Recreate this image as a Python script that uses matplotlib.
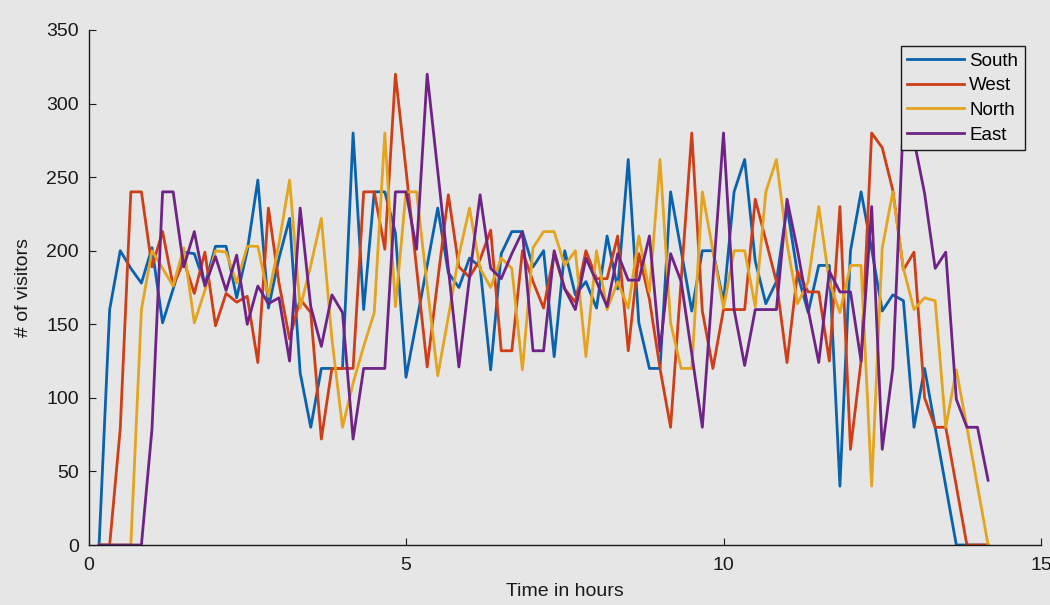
import matplotlib
matplotlib.use("Agg")
import matplotlib.pyplot as plt
import numpy as np

# samples every 10 minutes, first one at 10 min
minutes = np.arange(10, 860, 10)

south = [0, 160, 200, 188, 178, 202, 151, 174, 199, 198,
         177, 203, 203, 168, 200, 248, 161, 195, 222, 117,
         80, 120, 120, 120, 280, 160, 240, 240, 212, 114,
         152, 190, 229, 185, 175, 195, 189, 119, 198, 213,
         213, 189, 200, 128, 200, 170, 179, 161, 210, 174,
         262, 151, 120, 120, 240, 200, 159, 200, 200, 165,
         240, 262, 193, 164, 179, 230, 184, 158, 190, 190,
         40, 200, 240, 201, 159, 170, 166, 80, 120, 80,
         40, 0, 0, 0, 0]

west = [0, 0, 79, 240, 240, 189, 213, 176, 193, 171,
        199, 149, 171, 165, 169, 124, 229, 178, 140, 167,
        158, 72, 120, 120, 120, 240, 240, 201, 320, 255,
        188, 121, 180, 238, 189, 182, 194, 214, 132, 132,
        200, 179, 161, 198, 174, 165, 200, 181, 181, 210,
        132, 198, 167, 120, 80, 180, 280, 159, 120, 160,
        160, 160, 235, 207, 179, 124, 186, 172, 172, 125,
        230, 65, 125, 280, 270, 241, 187, 199, 100, 80,
        80, 40, 0, 0, 0]

north = [0, 0, 0, 0, 160, 200, 188, 176, 202, 151,
         173, 200, 199, 178, 203, 203, 169, 205, 248, 161,
         190, 222, 140, 80, 110, 135, 158, 280, 162, 240,
         240, 176, 115, 155, 197, 229, 188, 175, 195, 188,
         119, 202, 213, 213, 190, 200, 128, 200, 160, 179,
         161, 210, 172, 262, 151, 120, 120, 240, 200, 161,
         200, 200, 162, 240, 262, 205, 164, 179, 230, 179,
         158, 190, 190, 40, 202, 240, 188, 160, 168, 166,
         80, 119, 80, 40, 0]

east = [0, 0, 0, 0, 0, 79, 240, 240, 189, 213,
        176, 196, 173, 197, 150, 176, 164, 168, 125, 229,
        162, 135, 170, 158, 72, 120, 120, 120, 240, 240,
        201, 320, 254, 188, 121, 182, 238, 188, 181, 198,
        213, 132, 132, 200, 174, 160, 195, 179, 162, 198,
        180, 180, 210, 132, 198, 179, 130, 80, 180, 280,
        160, 122, 160, 160, 160, 235, 200, 160, 124, 186,
        172, 172, 125, 230, 65, 120, 290, 275, 239, 188,
        199, 99, 80, 80, 44]

series_names = ["South", "West", "North", "East"]
series_colors = ["#0862ae", "#cf3e16", "#e4a41e", "#6f2386"]

bg = "#e6e6e6"
plt.rcParams["font.family"] = ["Liberation Sans", "DejaVu Sans"]

hours = minutes / 60.0

fig = plt.figure(figsize=(10.5, 6.05), dpi=100, facecolor=bg)
ax = fig.add_axes([88.5 / 1050, 60 / 605, 952.5 / 1050, 515 / 605])
ax.set_facecolor(bg)

for vals, name, col in zip([south, west, north, east], series_names, series_colors):
    ax.plot(hours, vals, color=col, linewidth=2.0, label=name)

ax.set_xlim(0, 15)
ax.set_ylim(0, 350)
ax.set_xticks([0, 5, 10, 15])
ax.set_yticks(np.arange(0, 351, 50))

for side in ["top", "right"]:
    ax.spines[side].set_visible(False)
for side in ["left", "bottom"]:
    ax.spines[side].set_linewidth(1.0)
    ax.spines[side].set_color("#1a1a1a")

ax.tick_params(axis="both", direction="in", length=5, width=0.8,
               labelsize=14, colors="#1a1a1a")
ax.tick_params(axis="x", pad=9)
ax.tick_params(axis="y", pad=7)

ax.set_xlabel("Time in hours", fontsize=14, color="#1a1a1a", labelpad=6)
ax.set_ylabel("# of visitors", fontsize=14, color="#1a1a1a", labelpad=10)

leg = ax.legend(loc="upper right", bbox_to_anchor=(0.983, 0.969),
                borderaxespad=0, fontsize=13.5, fancybox=False,
                edgecolor="#1a1a1a", facecolor=bg, framealpha=1,
                handlelength=3.0, handletextpad=0.3, labelspacing=0.4,
                borderpad=0.35)
leg.get_frame().set_linewidth(1.0)

fig.savefig("out.png", dpi=100, facecolor=bg)
plt.close()
